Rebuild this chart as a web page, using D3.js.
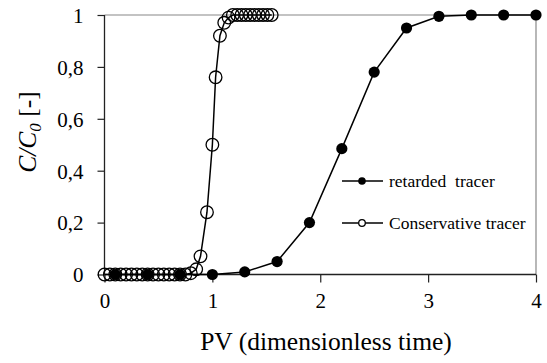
<!DOCTYPE html>
<html><head><meta charset="utf-8">
<script src="https://cdn.jsdelivr.net/npm/d3@7"></script>
<style>body{margin:0;background:#fff}svg{display:block}</style>
</head><body><svg id="c" width="547" height="363"></svg>
<script>
const retardedX = [0.1, 0.4, 0.7, 1.0, 1.3, 1.6, 1.9, 2.2, 2.5, 2.8, 3.1, 3.4, 3.7, 4.0];
const retardedY = [0, 0, 0, 0, 0.01, 0.05, 0.2, 0.485, 0.78, 0.95, 0.995, 1.0, 1.0, 1.0];
const conservX = [0.0, 0.05, 0.1, 0.15, 0.2, 0.25, 0.3, 0.35, 0.4, 0.45, 0.5, 0.55, 0.6, 0.65, 0.7, 0.75, 0.8, 0.85, 0.89, 0.95, 1.0, 1.03, 1.07, 1.11, 1.15, 1.19, 1.23, 1.27, 1.31, 1.35, 1.39, 1.43, 1.47, 1.51, 1.55];
const conservY = [0, 0, 0, 0, 0, 0, 0, 0, 0, 0, 0, 0, 0, 0, 0, 0, 0.005, 0.02, 0.07, 0.24, 0.5, 0.76, 0.92, 0.97, 0.99, 1.0, 1.0, 1.0, 1.0, 1.0, 1.0, 1.0, 1.0, 1.0, 1.0];
const xTicks = [0, 1, 2, 3, 4];
const yTicks = [0, 0.2, 0.4, 0.6, 0.8, 1];
const seriesNames = ["retarded  tracer", "Conservative tracer"];

const svg = d3.select("#c");
const m = {l: 104.5, r: 536, t: 15, b: 274.5};
const x = d3.scaleLinear().domain([0, 4]).range([m.l, m.r]);
const y = d3.scaleLinear().domain([0, 1]).range([m.b, m.t]);
const font = "'Liberation Serif','Times New Roman',Times,serif";

// plot border (gray top/right)
svg.append("line").attr("x1", m.l).attr("x2", m.r).attr("y1", m.t).attr("y2", m.t).attr("stroke", "#888").attr("stroke-width", 1.2);
svg.append("line").attr("x1", m.r).attr("x2", m.r).attr("y1", m.t).attr("y2", m.b).attr("stroke", "#888").attr("stroke-width", 1.2);

// axes
const xAxis = d3.axisBottom(x).tickValues(xTicks).tickSize(8).tickFormat(d3.format("d"));
const yAxis = d3.axisLeft(y).tickValues(yTicks).tickSize(7).tickFormat(d => d === 0 || d === 1 ? String(d) : String(d).replace(".", ","));
const gx = svg.append("g").attr("transform", `translate(0,${m.b})`).call(xAxis);
const gy = svg.append("g").attr("transform", `translate(${m.l},0)`).call(yAxis);
[gx, gy].forEach(g => {
  g.attr("font-family", null).attr("font-size", null);
  g.select(".domain").attr("stroke", "#222").attr("stroke-width", 1.3);
  g.selectAll(".tick line").attr("stroke", "#222").attr("stroke-width", 1.2);
  g.selectAll(".tick text").style("font-family", font).style("font-size", "21px").attr("fill", "#000");
});
gx.select(".domain").attr("d", `M${m.l},0H${m.r}`);
gy.select(".domain").attr("d", `M0,${m.t}V${m.b}`);
gx.selectAll(".tick text").attr("dy", "0").attr("y", 33);
gy.selectAll(".tick text").attr("x", -21).attr("dy", "0.35em");

const line = d3.line().x(d => x(d[0])).y(d => y(d[1]));
const rData = retardedX.map((v, i) => [v, retardedY[i]]);
const cData = conservX.map((v, i) => [v, conservY[i]]);

svg.append("path").datum(cData).attr("d", line).attr("fill", "none").attr("stroke", "#000").attr("stroke-width", 1.5);
svg.append("path").datum(rData).attr("d", line).attr("fill", "none").attr("stroke", "#000").attr("stroke-width", 1.5);

svg.append("g").selectAll("circle").data(rData).join("circle")
  .attr("cx", d => x(d[0])).attr("cy", d => y(d[1])).attr("r", 5.6).attr("fill", "#000");
svg.append("g").selectAll("circle").data(cData).join("circle")
  .attr("cx", d => x(d[0])).attr("cy", d => y(d[1])).attr("r", 6.3).attr("fill", "none").attr("stroke", "#000").attr("stroke-width", 1.3);

// legend
const lg = svg.append("g");
const ly = [181, 223];
seriesNames.forEach((name, i) => {
  lg.append("line").attr("x1", 342).attr("x2", 383).attr("y1", ly[i]).attr("y2", ly[i]).attr("stroke", "#000").attr("stroke-width", 1.5);
  if (i === 0) lg.append("circle").attr("cx", 362).attr("cy", ly[i]).attr("r", 3.8).attr("fill", "#000");
  else lg.append("circle").attr("cx", 362).attr("cy", ly[i]).attr("r", 3.3).attr("fill", "#fff").attr("stroke", "#000").attr("stroke-width", 1.3);
  lg.append("text").attr("x", 389).attr("y", ly[i] + 6).style("font-family", font).style("font-size", "17.5px").style("white-space", "pre").text(name);
});

// axis titles
svg.append("text").attr("x", 326).attr("y", 350).attr("text-anchor", "middle").style("font-family", font).style("font-size", "25.5px").text("PV (dimensionless time)");
const yt = svg.append("text").attr("transform", "translate(36,132) rotate(-90)").attr("text-anchor", "middle").style("font-family", font).style("font-size", "25.5px");
yt.append("tspan").style("font-style", "italic").text("C/C");
yt.append("tspan").style("font-style", "italic").style("font-size", "17px").attr("dy", 5).text("0");
yt.append("tspan").attr("dy", -5).text(" [-]");
</script></body></html>
